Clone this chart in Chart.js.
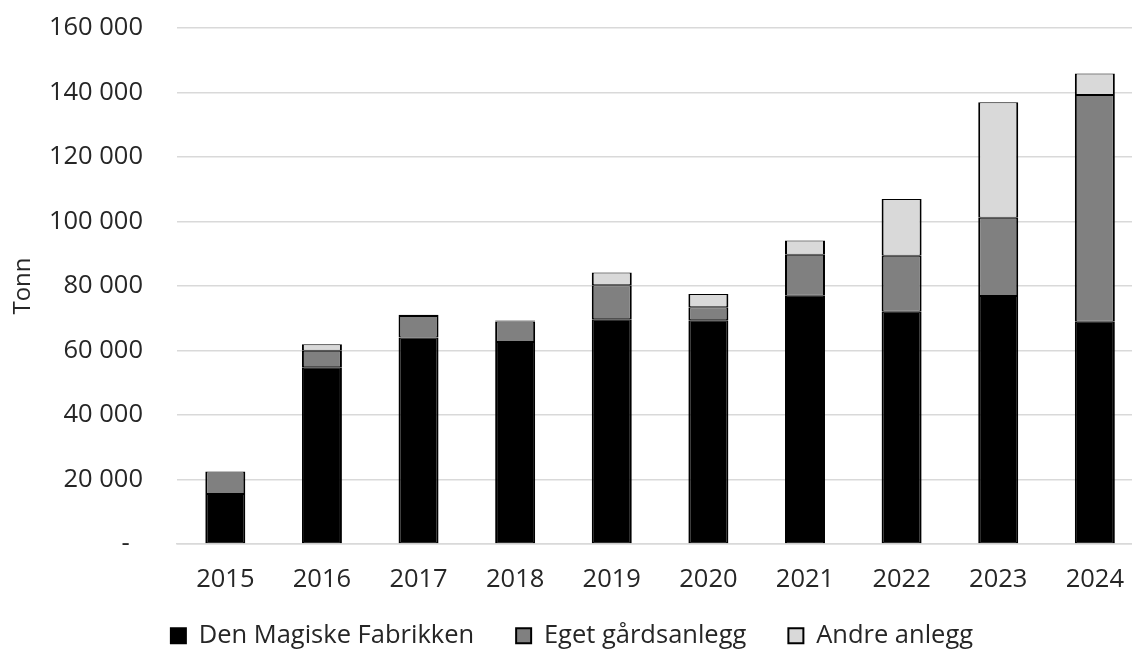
<!DOCTYPE html>
<html>
<head>
<meta charset="utf-8">
<script src="https://cdn.jsdelivr.net/npm/chart.js@4"></script>
<style>
  html, body { margin: 0; padding: 0; background: #fff; overflow: hidden; }
  #wrap { position: relative; width: 1144px; height: 649px; }
</style>
</head>
<body>
<div id="wrap"><canvas id="c"></canvas></div>
<script>
const categories = ['2015', '2016', '2017', '2018', '2019', '2020', '2021', '2022', '2023', '2024'];
const denMagiskeFabrikken = [15500, 54800, 64000, 62600, 69700, 69400, 77000, 72000, 76900, 68900];
const egetGardsanlegg = [7000, 5100, 6700, 6400, 10500, 4000, 12700, 17400, 24300, 70300];
const andreAnlegg = [0, 2000, 400, 300, 4000, 4100, 4400, 17600, 35800, 6700];
const seriesNames = ['Den Magiske Fabrikken', 'Eget gårdsanlegg', 'Andre anlegg'];
const yTicks = [0, 20000, 40000, 60000, 80000, 100000, 120000, 140000, 160000];
const yTitle = 'Tonn';

const FONT = "'Open Sans', sans-serif";
const TEXT = '#262626';
const FS = 25.5;
const border = { top: 1, bottom: 1, left: 2, right: 2 };

function fmt(v) {
  if (v === 0) return '-  ';
  return String(v).replace(/\B(?=(\d{3})+(?!\d))/g, ' ');
}

const mk = (label, data, color) => ({
  label, data,
  backgroundColor: color,
  borderColor: '#000',
  borderWidth: border,
  borderSkipped: false,
  categoryPercentage: 1,
  barPercentage: 0.414
});

const legendShift = {
  id: 'legendShift',
  afterLayout(chart) {
    const L = chart.legend;
    if (!L) return;
    const h = L.bottom - L.top;
    L.top = chart.chartArea.bottom + 37;
    L.bottom = L.top + h;
  }
};

new Chart(document.getElementById('c'), {
  type: 'bar',
  data: {
    labels: categories,
    datasets: [
      mk(seriesNames[0], denMagiskeFabrikken, '#000000'),
      mk(seriesNames[1], egetGardsanlegg, '#808080'),
      mk(seriesNames[2], andreAnlegg, '#d9d9d9')
    ]
  },
  plugins: [legendShift],
  options: {
    responsive: true,
    maintainAspectRatio: false,
    animation: false,
    layout: { padding: { top: 28, left: 0, right: 0, bottom: -32.5 } },
    plugins: {
      tooltip: { enabled: false },
      legend: {
        position: 'bottom',
        labels: {
          font: { family: FONT, size: FS },
          color: TEXT,
          boxWidth: 15,
          boxHeight: 15,
          padding: 42,
          generateLabels(chart) {
            return chart.data.datasets.map((ds, i) => ({
              text: ds.label,
              fillStyle: ds.backgroundColor,
              strokeStyle: '#000',
              lineWidth: 2,
              hidden: false,
              datasetIndex: i,
              fontColor: TEXT
            }));
          }
        }
      }
    },
    scales: {
      x: {
        stacked: true,
        grid: { display: false, drawTicks: false },
        border: { display: true, color: '#d9d9d9', width: 1.5 },
        ticks: { font: { family: FONT, size: FS }, color: TEXT, padding: 20, maxRotation: 0 },
        afterFit(scale) { scale.height = 60; }
      },
      y: {
        stacked: true,
        min: 0,
        max: 160000,
        afterBuildTicks(scale) { scale.ticks = yTicks.map(v => ({ value: v })); },
        grid: { color: '#d9d9d9', lineWidth: 1.5, drawTicks: false },
        border: { display: false },
        ticks: {
          font: { family: FONT, size: FS },
          color: TEXT,
          padding: 34,
          callback: (v) => fmt(v)
        },
        title: {
          display: true,
          text: yTitle,
          font: { family: FONT, size: 24 },
          color: TEXT,
          padding: { top: 9, bottom: 0 }
        },
        afterFit(scale) {
          scale.width = 177;
          scale.paddingTop = 0;
          scale.paddingBottom = 0;
        }
      }
    }
  }
});
</script>
</body>
</html>
